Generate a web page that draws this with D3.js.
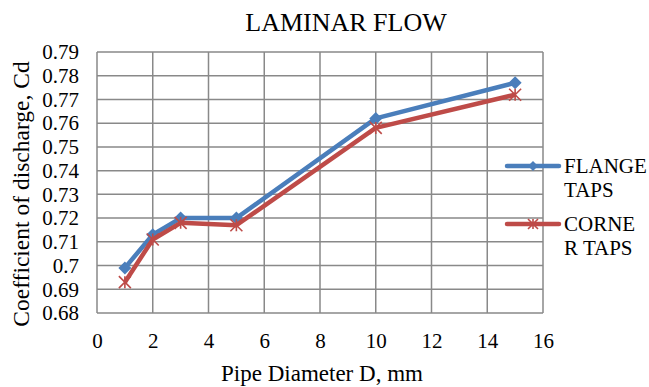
<!DOCTYPE html>
<html>
<head>
<meta charset="utf-8">
<script src="https://cdn.jsdelivr.net/npm/d3@7"></script>
<style>
  html, body { margin: 0; padding: 0; background: #fff; }
</style>
</head>
<body>
<svg id="chart" width="649" height="387"></svg>
<script>
// Pipe diameters (mm) and measured discharge coefficients
const diameters = [1, 2, 3, 5, 10, 15];
const flangeTaps = [0.699, 0.713, 0.720, 0.720, 0.762, 0.777];
const cornerTaps = [0.693, 0.711, 0.718, 0.717, 0.758, 0.772];
const xTicks = [0, 2, 4, 6, 8, 10, 12, 14, 16];
const yTicks = [0.68, 0.69, 0.70, 0.71, 0.72, 0.73, 0.74, 0.75, 0.76, 0.77, 0.78, 0.79];
const seriesNames = [["FLANGE", "TAPS"], ["CORNE", "R TAPS"]];

const FONT = "'Liberation Serif', 'Times New Roman', serif";
const svg = d3.select("#chart").attr("font-family", FONT);
const m = { left: 97, right: 543, top: 52, bottom: 313 };

const x = d3.scaleLinear().domain([0, 16]).range([m.left, m.right]);
const y = d3.scaleLinear().domain([0.68, 0.79]).range([m.bottom, m.top]);

const grid = "#898989";

// gridlines
svg.append("g").selectAll("line").data(yTicks).join("line")
  .attr("x1", m.left).attr("x2", m.right)
  .attr("y1", d => y(d)).attr("y2", d => y(d))
  .attr("stroke", grid).attr("stroke-width", 1.5);
svg.append("g").selectAll("line").data(xTicks).join("line")
  .attr("y1", m.top).attr("y2", m.bottom)
  .attr("x1", d => x(d)).attr("x2", d => x(d))
  .attr("stroke", grid).attr("stroke-width", 1.5);

// tick labels via d3 axes (axis lines hidden)
const yAxis = svg.append("g").attr("transform", `translate(${m.left},0)`)
  .call(d3.axisLeft(y).tickValues(yTicks).tickFormat(d => String(+d.toFixed(2))).tickSize(0).tickPadding(18));
yAxis.attr("font-family", FONT).attr("font-size", 21);
yAxis.select(".domain").remove();
yAxis.selectAll("text").attr("fill", "#000");

const xAxis = svg.append("g").attr("transform", `translate(0,${m.bottom})`)
  .call(d3.axisBottom(x).tickValues(xTicks).tickFormat(d3.format("d")).tickSize(0).tickPadding(20));
xAxis.attr("font-family", FONT).attr("font-size", 21);
xAxis.select(".domain").remove();
xAxis.selectAll("text").attr("fill", "#000");

// titles
svg.append("text").attr("x", 346).attr("y", 31).attr("text-anchor", "middle")
  .attr("font-size", 26).text("LAMINAR FLOW");
svg.append("text").attr("x", 322).attr("y", 381).attr("text-anchor", "middle")
  .attr("font-size", 23).text("Pipe Diameter D, mm");
svg.append("text").attr("transform", "translate(29,194) rotate(-90)").attr("text-anchor", "middle")
  .attr("font-size", 23.5).text("Coefficient of discharge, Cd");

const colors = ["#4a7ebb", "#be4b48"];
const line = d3.line().x(d => x(d[0])).y(d => y(d[1]));

function diamond(g, cx, cy, r, c) {
  g.append("path").attr("d", `M${cx},${cy - r}L${cx + r},${cy}L${cx},${cy + r}L${cx - r},${cy}Z`)
    .attr("fill", c);
}
function star(g, cx, cy, r, c) {
  g.append("path").attr("d",
    `M${cx - r},${cy - r}L${cx + r},${cy + r}M${cx - r},${cy + r}L${cx + r},${cy - r}M${cx},${cy - r}L${cx},${cy + r}`)
    .attr("stroke", c).attr("stroke-width", 1.6).attr("fill", "none");
}

const series = [flangeTaps, cornerTaps];
series.forEach((vals, i) => {
  const pts = diameters.map((d, j) => [d, vals[j]]);
  const g = svg.append("g");
  g.append("path").datum(pts).attr("d", line).attr("fill", "none")
    .attr("stroke", colors[i]).attr("stroke-width", 4.5).attr("stroke-linejoin", "round");
  pts.forEach(p => {
    if (i === 0) diamond(g, x(p[0]), y(p[1]), 6.5, colors[i]);
    else star(g, x(p[0]), y(p[1]), 6, colors[i]);
  });
});

// legend
const legY = [166, 224];
seriesNames.forEach((lines, i) => {
  const g = svg.append("g");
  g.append("line").attr("x1", 507).attr("x2", 559).attr("y1", legY[i]).attr("y2", legY[i])
    .attr("stroke", colors[i]).attr("stroke-width", 4.5).attr("stroke-linecap", "round");
  if (i === 0) diamond(g, 533, legY[i], 5, colors[i]);
  else star(g, 533, legY[i], 5, colors[i]);
  lines.forEach((t, k) => {
    g.append("text").attr("x", 564).attr("y", legY[i] + 7 + k * 24)
      .attr("font-size", 21).text(t);
  });
});
</script>
</body>
</html>
